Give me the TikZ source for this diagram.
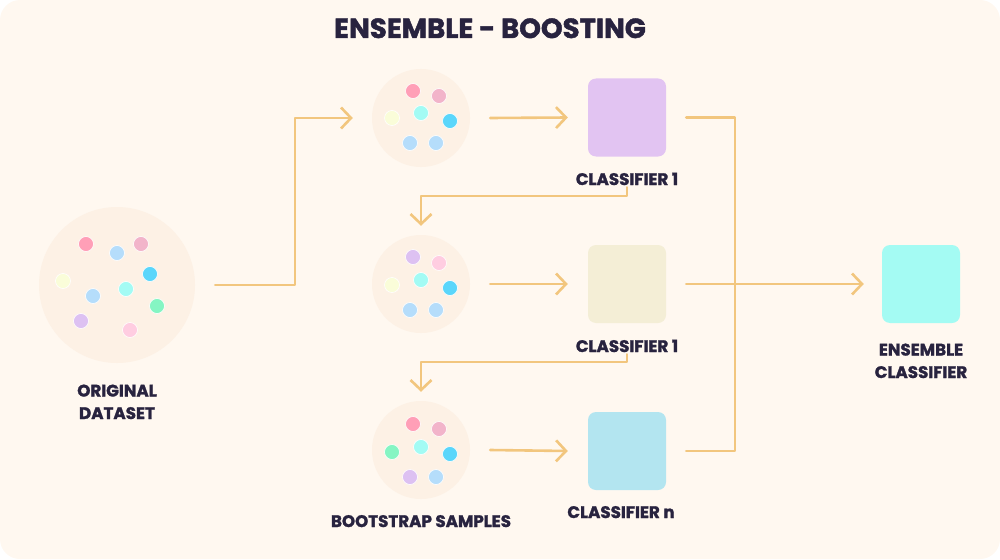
\documentclass[tikz,border=0pt]{standalone}
\usepackage{fontspec}
\setmainfont{Poppins}[BoldFeatures={FakeBold=1.6}]
\usetikzlibrary{arrows.meta}
\definecolor{bgc}{HTML}{FFF8F0}
\definecolor{circc}{HTML}{FDF1E5}
\definecolor{arrc}{HTML}{F2C67E}
\definecolor{txtc}{HTML}{28233F}
\definecolor{dpink}{HTML}{FF9FB7}
\definecolor{dpinkb}{HTML}{F2B4CA}
\definecolor{dlblue}{HTML}{B5DDFB}
\definecolor{dcyan}{HTML}{5AD6FB}
\definecolor{daqua}{HTML}{A3FBF4}
\definecolor{dyellow}{HTML}{FAFDD9}
\definecolor{dgreen}{HTML}{85F5C3}
\definecolor{dpurple}{HTML}{DDC1F2}
\definecolor{dlpink}{HTML}{FFCDE1}
\definecolor{boxpurple}{HTML}{E2C4F2}
\definecolor{boxbeige}{HTML}{F4EED6}
\definecolor{boxblue}{HTML}{B3E5F0}
\definecolor{boxaqua}{HTML}{A4FBF3}
\begin{document}
\begin{tikzpicture}[x=1pt,y=-1pt,
  bigcirc/.style={circle,fill=circc,minimum size=156pt,inner sep=0pt},
  sample/.style={circle,fill=circc,minimum size=98pt,inner sep=0pt},
  dot/.style={circle,fill=#1,draw=white,line width=0.6pt,minimum size=15pt,inner sep=0pt},
  clf/.style={rounded corners=8pt,fill=#1,minimum size=78pt,inner sep=0pt},
  lbl/.style={text=txtc,font=\bfseries\fontsize{16.7}{22.5}\selectfont,align=center,inner sep=2pt,anchor=base},
  conn/.style={draw=arrc,line width=2.6pt,line cap=round,line join=round},
  tip/.style={-{Straight Barb[length=10pt,width=21pt,line width=2.6pt]}}
]
\useasboundingbox (0,0) rectangle (1000,559);
\fill[bgc,rounded corners=20pt] (0,0) rectangle (1000,559);

% title
\node[text=txtc,font=\bfseries\fontsize{27.6}{30}\selectfont,anchor=base,inner sep=0pt] (title) at (490,38) {ENSEMBLE - BOOSTING};

% original dataset
\node[bigcirc] (orig) at (117,285) {};
\node[dot=dpink] (o1) at (86,244) {};
\node[dot=dlblue] (o2) at (117,253) {};
\node[dot=dpinkb] (o3) at (141,244) {};
\node[dot=dyellow] (o4) at (63,281) {};
\node[dot=dcyan] (o5) at (150,274) {};
\node[dot=daqua] (o6) at (126,289) {};
\node[dot=dlblue] (o7) at (93,296) {};
\node[dot=dgreen] (o8) at (157,306) {};
\node[dot=dpurple] (o9) at (81,321) {};
\node[dot=dlpink] (o10) at (130,330) {};
\node[lbl] (lorig) at (117,419) {ORIGINAL\\DATASET};

% sample 1
\node[sample] (s1) at (421,118) {};
\node[dot=dpink] (a1) at (413,91) {};
\node[dot=dpinkb] (a2) at (439,96) {};
\node[dot=dyellow] (a3) at (392,118) {};
\node[dot=daqua] (a4) at (421,113) {};
\node[dot=dcyan] (a5) at (450,121) {};
\node[dot=dlblue] (a6) at (410,143) {};
\node[dot=dlblue] (a7) at (436,143) {};

% sample 2
\node[sample] (s2) at (421,284) {};
\node[dot=dpurple] (b1) at (413,257) {};
\node[dot=dlpink] (b2) at (439,263) {};
\node[dot=dyellow] (b3) at (392,285) {};
\node[dot=daqua] (b4) at (421,280) {};
\node[dot=dcyan] (b5) at (450,288) {};
\node[dot=dlblue] (b6) at (410,310) {};
\node[dot=dlblue] (b7) at (436,310) {};

% sample 3
\node[sample] (s3) at (421,450) {};
\node[dot=dpink] (d1) at (413,424) {};
\node[dot=dpinkb] (d2) at (439,429) {};
\node[dot=dgreen] (d3) at (392,452) {};
\node[dot=daqua] (d4) at (421,447) {};
\node[dot=dcyan] (d5) at (450,454) {};
\node[dot=dpurple] (d6) at (410,477) {};
\node[dot=dlblue] (d7) at (436,477) {};
\node[lbl] (lboot) at (421,527) {BOOTSTRAP SAMPLES};

% classifiers
\node[clf=boxpurple] (c1) at (627,117.5) {};
\node[lbl] (l1) at (627,185) {CLASSIFIER 1};
\node[clf=boxbeige] (c2) at (627,284) {};
\node[lbl] (l2) at (627,352) {CLASSIFIER 1};
\node[clf=boxblue] (c3) at (627,451) {};
\node[lbl] (l3) at (621,518) {CLASSIFIER n};
\node[clf=boxaqua] (ens) at (921,284) {};
\node[lbl] (lens) at (921,378) {ENSEMBLE\\CLASSIFIER};

% connectors
\coordinate (j1) at (295,118);
\draw[conn,tip] ([xshift=20pt]orig.east) -| (j1) -- ([xshift=-19pt]s1.west);
\draw[conn,tip] ([xshift=20pt]s1.east) -- ([xshift=-20pt]c1.west);
\draw[conn,tip] ([xshift=20pt]s2.east) -- ([xshift=-20pt]c2.west);
\draw[conn,tip] ([xshift=20pt]s3.east) -- ([xshift=-20pt]c3.west);
\coordinate (k1) at (627,196);
\draw[conn,tip] (l1.south) -- (k1) -| ([yshift=9pt]s2.north);
\coordinate (k2) at (627,362);
\draw[conn,tip] (l2.south) -- (k2) -| ([yshift=9pt]s3.north);
\coordinate (r1) at (735,117.5);
\coordinate (r2) at (735,451);
\draw[conn] ([xshift=20pt]c1.east) -- (r1) -- (r2) -- ([xshift=20pt]c3.east);
\draw[conn,tip] ([xshift=20pt]c2.east) -- ([xshift=-18pt]ens.west);
\end{tikzpicture}
\end{document}
